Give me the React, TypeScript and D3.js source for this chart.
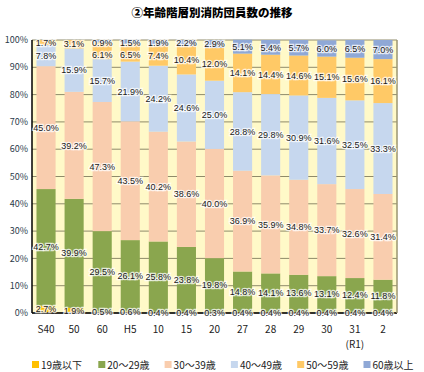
import React from "react";
import * as d3 from "d3";

const title = "②年齢階層別消防団員数の推移";
const categories = ["S40", "50", "60", "H5", "10", "15", "20", "27", "28", "29", "30", "31", "2"];
const subLabels = ["", "", "", "", "", "", "", "", "", "", "", "(R1)", ""];
const ageGroups = ["19歳以下", "20～29歳", "30～39歳", "40～49歳", "50～59歳", "60歳以上"];
const colors = ["#FFC000", "#8AA64E", "#F9CDAE", "#C6D7EE", "#FFC966", "#8FA8D6"];

const under19 = [2.7, 1.9, 0.5, 0.6, 0.4, 0.4, 0.3, 0.4, 0.4, 0.4, 0.4, 0.4, 0.4];
const age20s = [42.7, 39.9, 29.5, 26.1, 25.8, 23.8, 19.8, 14.8, 14.1, 13.6, 13.1, 12.4, 11.8];
const age30s = [45.0, 39.2, 47.3, 43.5, 40.2, 38.6, 40.0, 36.9, 35.9, 34.8, 33.7, 32.6, 31.4];
const age40s = [7.8, 15.9, 15.7, 21.9, 24.2, 24.6, 25.0, 28.8, 29.8, 30.9, 31.6, 32.5, 33.3];
const age50s = [1.7, 3.1, 6.1, 6.5, 7.4, 10.4, 12.0, 14.1, 14.4, 14.6, 15.1, 15.6, 16.1];
const over60 = [0, 0, 0.9, 1.5, 1.9, 2.2, 2.9, 5.1, 5.4, 5.7, 6.0, 6.5, 7.0];
const yTicks = [0, 10, 20, 30, 40, 50, 60, 70, 80, 90, 100];

const series = [under19, age20s, age30s, age40s, age50s, over60];

export default function App() {
  const width = 424;
  const height = 372;
  const margin = { top: 40, right: 27, bottom: 59, left: 32 };
  const plotW = width - margin.left - margin.right;
  const plotH = height - margin.top - margin.bottom;

  const rows = categories.map((c, i) => {
    const r: any = { cat: c };
    ageGroups.forEach((g, k) => (r[g] = series[k][i]));
    return r;
  });
  const stacked = d3.stack().keys(ageGroups)(rows);

  const x = d3.scaleBand().domain(categories).range([0, plotW]).paddingInner(0.32).paddingOuter(0.16);
  const y = d3.scaleLinear().domain([0, 100]).range([plotH, 0]);

  const font = "'Noto Sans CJK JP', 'Noto Sans', sans-serif";
  const labelFont = "'Liberation Sans', 'Noto Sans', sans-serif";

  // label positions: segment middle, top labels kept inside and apart
  const labels: any[] = [];
  categories.forEach((c, i) => {
    let prevY: number | null = null;
    for (let k = stacked.length - 1; k >= 0; k--) {
      const d: any = stacked[k][i];
      const v = d[1] - d[0];
      if (v <= 0) continue;
      let ly = Math.max(y((d[0] + d[1]) / 2), 3);
      if (prevY !== null && ly - prevY < 12) ly = prevY + 12;
      prevY = ly;
      labels.push({ key: `${k}-${i}`, x: (x(c) as number) + x.bandwidth() / 2, y: ly, text: v.toFixed(1) + "%" });
    }
  });

  return (
    <svg width={width} height={height} style={{ position: "absolute", left: 0, top: 0, background: "#fff" }}>
      <text x={width / 2} y={17} textAnchor="middle" fontFamily={font} fontWeight={900} fontSize={11.5} fill="#000">
        {title}
      </text>
      <g transform={`translate(${margin.left},${margin.top})`}>
        <rect x={0} y={0} width={plotW} height={plotH} fill="#FFF9C8" />
        {yTicks.map((t) => (
          <line key={t} x1={0} x2={plotW} y1={y(t)} y2={y(t)} stroke="#8f8a6a" strokeWidth={1} />
        ))}
        {stacked.map((s, k) => (
          <g key={s.key} fill={colors[k]}>
            {s.map((d: any, i) =>
              d[1] - d[0] > 0 ? (
                <rect key={i} x={x(categories[i])} width={x.bandwidth()} y={y(d[1])} height={y(d[0]) - y(d[1])} />
              ) : null
            )}
          </g>
        ))}
        <line x1={0} x2={0} y1={0} y2={plotH} stroke="#000" strokeWidth={1.5} />
        <line x1={0} x2={plotW} y1={plotH} y2={plotH} stroke="#000" strokeWidth={1.5} />
        <line x1={plotW} x2={plotW} y1={0} y2={plotH} stroke="#9a9570" strokeWidth={1.5} />
        {labels.map((l) => (
          <text
            key={l.key}
            x={l.x}
            y={l.y}
            dy="0.35em"
            textAnchor="middle"
            fontFamily={labelFont}
            fontSize={9}
            fill="#1a1a1a"
            stroke="rgba(255,255,255,0.75)"
            strokeWidth={2.5}
            paintOrder="stroke"
          >
            {l.text}
          </text>
        ))}
        {yTicks.map((t) => (
          <text key={"y" + t} x={-4} y={y(t)} dy="0.35em" textAnchor="end" fontFamily={font} fontSize={9} fill="#2b3a4a">
            {t + "%"}
          </text>
        ))}
        {categories.map((c, i) => (
          <g key={"x" + c + i}>
            <text
              x={(x(c) as number) + x.bandwidth() / 2}
              y={plotH + 20}
              textAnchor="middle"
              fontFamily={font}
              fontSize={10}
              fill="#222"
            >
              {c}
            </text>
            {subLabels[i] ? (
              <text
                x={(x(c) as number) + x.bandwidth() / 2}
                y={plotH + 35}
                textAnchor="middle"
                fontFamily={font}
                fontSize={10}
                fill="#222"
              >
                {subLabels[i]}
              </text>
            ) : null}
          </g>
        ))}
      </g>
      <g transform={`translate(32,365)`}>
        {ageGroups.map((g, k) => (
          <g key={g} transform={`translate(${k * 66.3},0)`}>
            <rect x={0} y={-4} width={7} height={7} fill={colors[k]} />
            <text x={9} y={0} dy="0.35em" fontFamily={font} fontSize={10} fill="#222">
              {g}
            </text>
          </g>
        ))}
      </g>
    </svg>
  );
}
